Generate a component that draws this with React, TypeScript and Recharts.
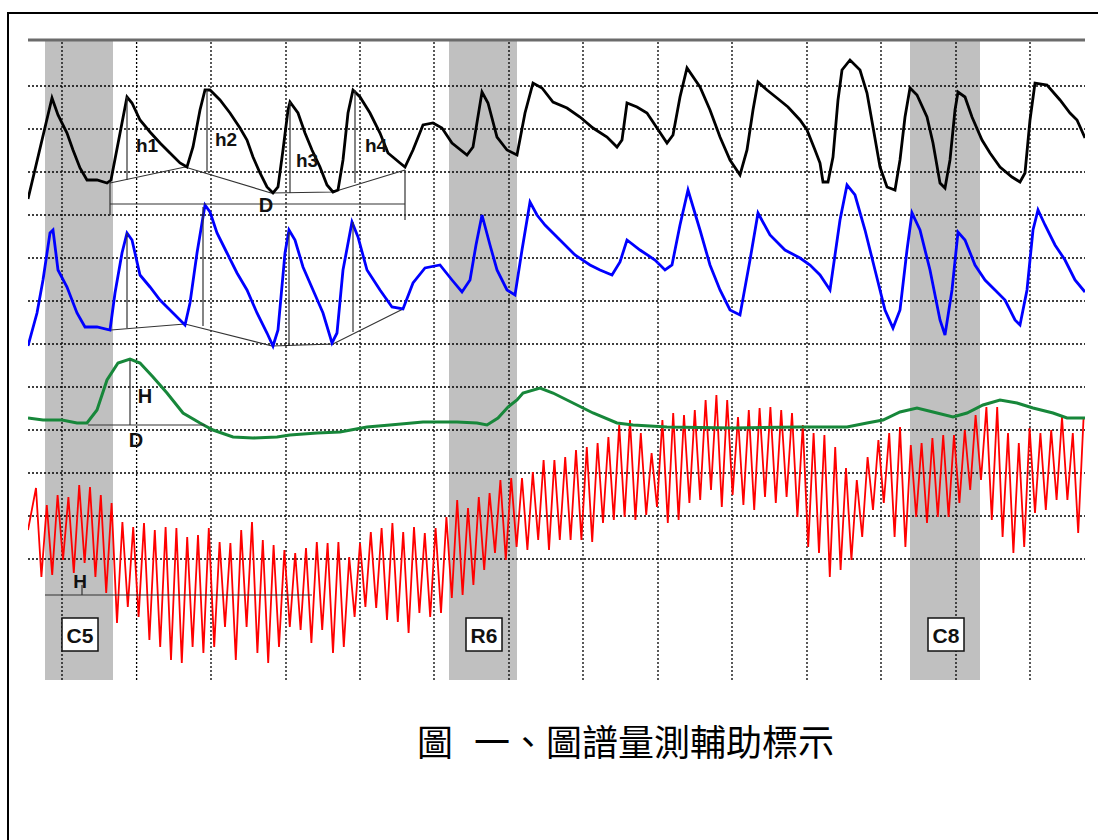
import React from 'react'
import {
  LineChart,
  Line,
  XAxis,
  YAxis,
  ReferenceArea,
  ReferenceLine,
  ReferenceDot,
} from 'recharts'

type Pt = [number, number]

// samples are [time, amplitude]; time runs 28..1085, amplitude 0..640
const upperPneumo: Pt[] = [
  [28, 481], [52, 582], [58, 565], [67, 547], [73, 530], [80, 512], [87, 500], [97, 500],
  [107, 497], [111, 500], [127, 583], [132, 577], [140, 560], [150, 548], [160, 537],
  [170, 527], [180, 517], [187, 513], [193, 533], [200, 570], [205, 590], [210, 590],
  [220, 580], [230, 567], [240, 552], [247, 540], [253, 523], [260, 507], [267, 493],
  [273, 487], [278, 493], [283, 530], [288, 570], [290, 578], [298, 567], [305, 547],
  [312, 530], [320, 513], [327, 495], [333, 488], [338, 490], [343, 520], [348, 567],
  [353, 590], [360, 583], [370, 567], [380, 547], [388, 527], [400, 517], [405, 513],
  [413, 530], [423, 555], [433, 557], [442, 552], [452, 537], [467, 525], [473, 533],
  [482, 588], [488, 577], [497, 543], [507, 530], [517, 525], [525, 567], [533, 597],
  [542, 592], [553, 578], [567, 572], [580, 563], [593, 552], [607, 543], [617, 533],
  [622, 540], [627, 577], [637, 573], [647, 567], [657, 552], [667, 537], [673, 545],
  [680, 583], [687, 612], [700, 593], [710, 570], [720, 543], [730, 520], [740, 505],
  [747, 530], [753, 570], [758, 598], [767, 590], [777, 582], [788, 573], [800, 560],
  [807, 550], [815, 530], [820, 517], [823, 498], [828, 498], [833, 523], [838, 580],
  [842, 610], [850, 620], [860, 610], [867, 587], [873, 553], [880, 513], [887, 493],
  [895, 490], [900, 520], [905, 563], [910, 592], [917, 585], [927, 563], [933, 537],
  [940, 497], [945, 492], [950, 520], [955, 570], [958, 588], [965, 583], [972, 563],
  [982, 540], [990, 527], [1000, 513], [1012, 503], [1020, 498], [1025, 507], [1030, 560],
  [1035, 597], [1047, 595], [1060, 580], [1070, 567], [1077, 560], [1085, 542],
]

const lowerPneumo: Pt[] = [
  [28, 334], [37, 367], [43, 400], [50, 447], [53, 450], [58, 410], [67, 393], [77, 367],
  [85, 353], [97, 353], [110, 350], [115, 387], [122, 427], [127, 447], [132, 440],
  [140, 405], [150, 393], [160, 380], [170, 370], [180, 360], [185, 355], [190, 377],
  [197, 427], [205, 475], [210, 468], [217, 447], [227, 427], [237, 407], [247, 390],
  [257, 367], [267, 347], [273, 334], [278, 350], [285, 427], [289, 450], [295, 440],
  [303, 413], [313, 390], [323, 367], [332, 337], [337, 347], [343, 410], [352, 458],
  [358, 443], [367, 410], [380, 390], [392, 373], [403, 371], [413, 397], [425, 412],
  [440, 415], [452, 400], [462, 388], [470, 400], [476, 435], [482, 465], [490, 435],
  [497, 410], [507, 390], [515, 385], [522, 430], [530, 478], [537, 465], [545, 455],
  [560, 440], [575, 425], [590, 415], [600, 410], [612, 405], [620, 418], [627, 440],
  [640, 430], [655, 420], [665, 410], [672, 415], [680, 455], [688, 490], [700, 450],
  [710, 415], [720, 390], [730, 370], [740, 365], [750, 420], [758, 467], [770, 445],
  [785, 430], [800, 422], [810, 415], [820, 405], [830, 390], [840, 460], [847, 495],
  [855, 485], [865, 450], [875, 410], [885, 370], [893, 352], [900, 370], [907, 430],
  [912, 467], [920, 450], [930, 410], [940, 360], [945, 345], [952, 390], [958, 448],
  [965, 440], [975, 415], [985, 400], [995, 390], [1005, 380], [1015, 360], [1020, 355],
  [1027, 390], [1033, 450], [1038, 470], [1045, 455], [1055, 435], [1065, 420],
  [1075, 400], [1085, 388],
]

const edaTrace: Pt[] = [
  [28, 262], [43, 260], [62, 260], [77, 257], [87, 257], [97, 270], [107, 300], [118, 317],
  [130, 321], [140, 317], [153, 303], [167, 287], [183, 267], [200, 257], [213, 250],
  [233, 243], [253, 242], [277, 243], [290, 245], [317, 247], [340, 248], [367, 253],
  [390, 255], [423, 258], [457, 258], [477, 257], [487, 255], [498, 262], [508, 273],
  [517, 280], [523, 287], [540, 292], [553, 287], [573, 277], [593, 267], [617, 257],
  [633, 255], [667, 253], [733, 252], [800, 253], [847, 253], [867, 257], [883, 260],
  [900, 268], [917, 272], [933, 268], [953, 263], [967, 267], [983, 275], [1000, 280],
  [1017, 277], [1033, 272], [1053, 267], [1067, 262], [1085, 262],
]

// cardio: one peak and one trough per beat
const cardioStart = 36
const beat = 10.8
const cardioPeaks = [
  192, 175, 185, 183, 195, 193, 185, 177, 158, 153, 157, 150, 153, 152, 143, 145, 152, 138,
  137, 150, 158, 140, 135, 130, 127, 132, 138, 137, 138, 123, 137, 148, 152, 157, 148, 153,
  147, 152, 163, 180, 172, 183, 187, 200, 202, 202, 208, 220, 220, 223, 230, 233, 237, 243,
  255, 260, 247, 227, 260, 267, 265, 270, 280, 285, 280, 263, 270, 272, 273, 270, 267, 255,
  247, 245, 233, 212, 200, 223, 240, 247, 253, 235, 237, 242, 245, 245, 250, 265, 273, 273,
  247, 237, 252, 247, 250, 263, 247, 263,
]
const cardioTroughs = [
  103, 105, 120, 107, 117, 103, 87, 57, 73, 63, 40, 33, 20, 17, 33, 27, 33, 53, 20, 53, 27,
  17, 33, 53, 50, 37, 50, 27, 33, 63, 73, 72, 60, 58, 47, 67, 63, 67, 82, 85, 95, 110, 127,
  120, 133, 130, 140, 130, 140, 140, 140, 138, 157, 160, 163, 160, 165, 173, 157, 160, 177,
  180, 190, 173, 185, 175, 170, 183, 177, 183, 163, 133, 127, 103, 110, 120, 143, 170, 177,
  143, 133, 163, 157, 163, 163, 177, 190, 200, 160, 143, 127, 133, 167, 170, 180, 180, 147,
]

const zones = [
  { name: 'C5', from: 45, to: 113 },
  { name: 'R6', from: 449, to: 517 },
  { name: 'C8', from: 910, to: 980 },
]
const timeGrid = [62, 136.6, 211, 286, 360, 434, 509, 583, 658, 732, 807, 881, 956, 1030]
const levelGrid = [594, 551, 508, 465, 422, 379, 336, 293, 250, 207, 164, 121]

// measuring aids
const upperBase: Pt[] = [[110, 497], [185, 513], [271, 487], [333, 488], [405, 510]]
const lowerBase: Pt[] = [[111, 350], [185, 356], [272, 334], [333, 336], [403, 371]]
const upperHeights = [
  { name: 'h1', t: 127, top: 583, base: 500 },
  { name: 'h2', t: 207, top: 590, base: 508 },
  { name: 'h3', t: 290, top: 578, base: 487 },
  { name: 'h4', t: 355, top: 590, base: 497 },
]
const lowerHeights = [
  { t: 127, top: 447, base: 352 },
  { t: 203, top: 473, base: 354 },
  { t: 289, top: 448, base: 334 },
  { t: 353, top: 458, base: 348 },
]

const toRows = (pts: Pt[]) => pts.map(([t, v]) => ({ t, v }))

const cardio = [{ t: 28, v: 150 }]
cardioPeaks.forEach((p, i) => {
  cardio.push({ t: cardioStart + i * beat, v: p })
  if (i < cardioTroughs.length) {
    cardio.push({ t: cardioStart + beat / 2 + i * beat, v: cardioTroughs[i] })
  }
})

const labelFont = "'Liberation Sans', Arial, sans-serif"

const tagText = (text: string, size = 19) => (p: any) => (
  <text
    x={p.cx}
    y={p.cy}
    textAnchor='middle'
    dominantBaseline='central'
    fontSize={size}
    fontWeight='bold'
    fontFamily={labelFont}
    fill='#111'
  >
    {text}
  </text>
)

const tagBox = (text: string) => (p: any) => (
  <g>
    <rect
      x={p.cx - 18}
      y={p.cy - 16}
      width={36}
      height={33}
      fill='#ffffff'
      stroke='#111'
      strokeWidth={1.5}
    />
    <text
      x={p.cx}
      y={p.cy + 1}
      textAnchor='middle'
      dominantBaseline='central'
      fontSize={21}
      fontWeight='bold'
      fontFamily={labelFont}
      fill='#111'
    >
      {text}
    </text>
  </g>
)

const aid = { stroke: '#333', strokeWidth: 1.2 }

export default function App() {
  return (
    <div
      style={{
        position: 'fixed',
        left: 0,
        top: 0,
        width: 1098,
        height: 840,
        overflow: 'hidden',
        background: '#fff',
      }}
    >
      <div
        style={{
          position: 'absolute',
          left: 7,
          top: 12,
          width: 1200,
          height: 1000,
          border: '2px solid #000',
        }}
      />
      <div style={{ position: 'absolute', left: 0, top: 0 }}>
        <LineChart
          width={1098}
          height={700}
          margin={{ top: 40, right: 13, bottom: 20, left: 28 }}
        >
          <XAxis type='number' dataKey='t' domain={[28, 1085]} allowDataOverflow hide />
          <YAxis type='number' dataKey='v' domain={[0, 640]} allowDataOverflow hide />
          {zones.map((z) => (
            <ReferenceArea
              key={z.name}
              x1={z.from}
              x2={z.to}
              y1={0}
              y2={640}
              fill='#c0c0c0'
              fillOpacity={1}
              stroke='none'
              zIndex={-20}
            />
          ))}
          {timeGrid.map((t) => (
            <ReferenceLine
              key={'vt' + t}
              x={t}
              stroke='#000'
              strokeDasharray='2 2'
              strokeWidth={1.3}
              zIndex={-10}
            />
          ))}
          {levelGrid.map((v) => (
            <ReferenceLine
              key={'hz' + v}
              y={v}
              stroke='#000'
              strokeDasharray='2 2'
              strokeWidth={1.3}
              zIndex={-10}
            />
          ))}
          <ReferenceLine y={640} stroke='#6b6b6b' strokeWidth={3} zIndex={-10} />

          <Line data={toRows(upperBase)} dataKey='v' stroke='#333' strokeWidth={1.2} dot={false} isAnimationActive={false} />
          <Line data={toRows(lowerBase)} dataKey='v' stroke='#333' strokeWidth={1.2} dot={false} isAnimationActive={false} />

          <Line data={cardio} dataKey='v' stroke='#ff0000' strokeWidth={1.8} dot={false} isAnimationActive={false} />
          <Line data={toRows(edaTrace)} dataKey='v' stroke='#17873a' strokeWidth={3} dot={false} isAnimationActive={false} />
          <Line data={toRows(lowerPneumo)} dataKey='v' stroke='#0000ff' strokeWidth={2.8} dot={false} isAnimationActive={false} />
          <Line data={toRows(upperPneumo)} dataKey='v' stroke='#000000' strokeWidth={2.8} dot={false} isAnimationActive={false} />

          {upperHeights.map((h) => (
            <ReferenceLine key={h.name} segment={[{ x: h.t, y: h.top }, { x: h.t, y: h.base }]} {...aid} zIndex={600} />
          ))}
          {lowerHeights.map((h) => (
            <ReferenceLine key={'l' + h.t} segment={[{ x: h.t, y: h.top }, { x: h.t, y: h.base }]} {...aid} zIndex={600} />
          ))}
          <ReferenceLine segment={[{ x: 110, y: 476 }, { x: 405, y: 476 }]} {...aid} zIndex={600} />
          <ReferenceLine segment={[{ x: 110, y: 498 }, { x: 110, y: 465 }]} {...aid} zIndex={600} />
          <ReferenceLine segment={[{ x: 405, y: 510 }, { x: 405, y: 460 }]} {...aid} zIndex={600} />
          <ReferenceLine segment={[{ x: 130, y: 320 }, { x: 130, y: 255 }]} {...aid} zIndex={600} />
          <ReferenceLine segment={[{ x: 88, y: 255 }, { x: 205, y: 255 }]} {...aid} zIndex={600} />
          <ReferenceLine segment={[{ x: 45, y: 85 }, { x: 312, y: 85 }]} {...aid} zIndex={600} />
          <ReferenceLine segment={[{ x: 82, y: 95 }, { x: 82, y: 85 }]} {...aid} zIndex={600} />

          <ReferenceDot x={147} y={535} r={0} shape={tagText('h1')} zIndex={700} />
          <ReferenceDot x={226} y={541} r={0} shape={tagText('h2')} zIndex={700} />
          <ReferenceDot x={307} y={520} r={0} shape={tagText('h3')} zIndex={700} />
          <ReferenceDot x={376} y={535} r={0} shape={tagText('h4')} zIndex={700} />
          <ReferenceDot x={266} y={475} r={0} shape={tagText('D', 20)} zIndex={700} />
          <ReferenceDot x={145} y={284} r={0} shape={tagText('H', 20)} zIndex={700} />
          <ReferenceDot x={136} y={240} r={0} shape={tagText('D', 20)} zIndex={700} />
          <ReferenceDot x={80} y={99} r={0} shape={tagText('H', 19)} zIndex={700} />

          {zones.map((z) => (
            <ReferenceDot
              key={'tag' + z.name}
              x={(z.from + z.to) / 2 + 1}
              y={46}
              r={0}
              shape={tagBox(z.name)}
              zIndex={700}
            />
          ))}
        </LineChart>
      </div>
      <div
        style={{
          position: 'absolute',
          left: 417,
          top: 722,
          fontFamily: "'Noto Sans CJK TC', 'Noto Sans CJK SC', sans-serif",
          fontSize: 36,
          lineHeight: '36px',
          fontWeight: 400,
          color: '#000',
          whiteSpace: 'pre',
        }}
      >
        <span>圖</span>
        <span style={{ display: 'inline-block', width: 21 }}> </span>
        <span>一、圖譜量測輔助標示</span>
      </div>
    </div>
  )
}
